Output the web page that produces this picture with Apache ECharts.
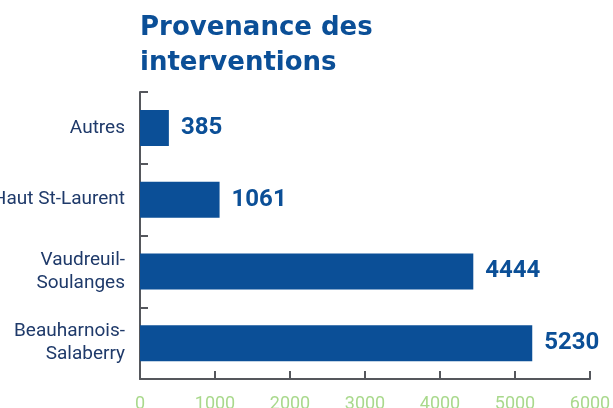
<!DOCTYPE html>
<html>
<head>
<meta charset="utf-8">
<script src="https://cdn.jsdelivr.net/npm/echarts@6/dist/echarts.min.js"></script>
<style>
  html, body { margin: 0; padding: 0; background: #fff; }
  #chart { width: 613px; height: 408px; }
</style>
</head>
<body>
<div id="chart"></div>
<script>
// catégories, du bas vers le haut
const regions = ['Beauharnois-\nSalaberry', 'Vaudreuil-\nSoulanges', 'Haut St-Laurent', 'Autres']
const interventions = [5230, 4444, 1061, 385]
const xTicks = [0, 1000, 2000, 3000, 4000, 5000, 6000]

const blue = '#0b4f97'
const axisGrey = '#55575c'

const myChart = echarts.init(document.getElementById('chart'))
const option = {
    backgroundColor: '#fff',
    animation: false,
    title: {
        text: 'Provenance des\ninterventions',
        left: 135,
        top: 6,
        textStyle: {
            color: blue,
            fontFamily: 'DejaVu Sans',
            fontWeight: 'bold',
            fontSize: 26,
            lineHeight: 35,
        }
    },
    grid: {
        left: 140,
        right: 23,
        top: 92,
        bottom: 29,
        outerBoundsMode: 'none',
    },
    xAxis: {
        type: 'value',
        min: xTicks[0],
        max: xTicks[xTicks.length - 1],
        interval: 1000,
        splitLine: { show: false },
        axisLine: { show: true, lineStyle: { color: axisGrey, width: 2 } },
        axisTick: { show: true, inside: true, length: 8, lineStyle: { color: axisGrey, width: 2 } },
        axisLabel: {
            color: '#a9d98c',
            fontFamily: 'Roboto',
            fontSize: 18,
            margin: 16,
            showMaxLabel: true,
            formatter: v => String(v),
        }
    },
    yAxis: {
        type: 'category',
        data: regions,
        axisLine: { show: true, lineStyle: { color: axisGrey, width: 2 } },
        axisTick: { show: true, inside: true, length: 8, lineStyle: { color: axisGrey, width: 2 } },
        axisLabel: {
            color: '#1f3a6a',
            fontFamily: 'Roboto',
            fontSize: 19,
            lineHeight: 23,
            margin: 15,
            align: 'right',
        }
    },
    series: [
        {
            type: 'bar',
            data: interventions,
            barWidth: 36,
            itemStyle: { color: blue },
            label: {
                show: true,
                position: 'right',
                distance: 12,
                color: blue,
                fontFamily: 'Roboto',
                fontWeight: 'bold',
                fontSize: 24,
            }
        }
    ]
}

option && myChart.setOption(option)
</script>
</body>
</html>
